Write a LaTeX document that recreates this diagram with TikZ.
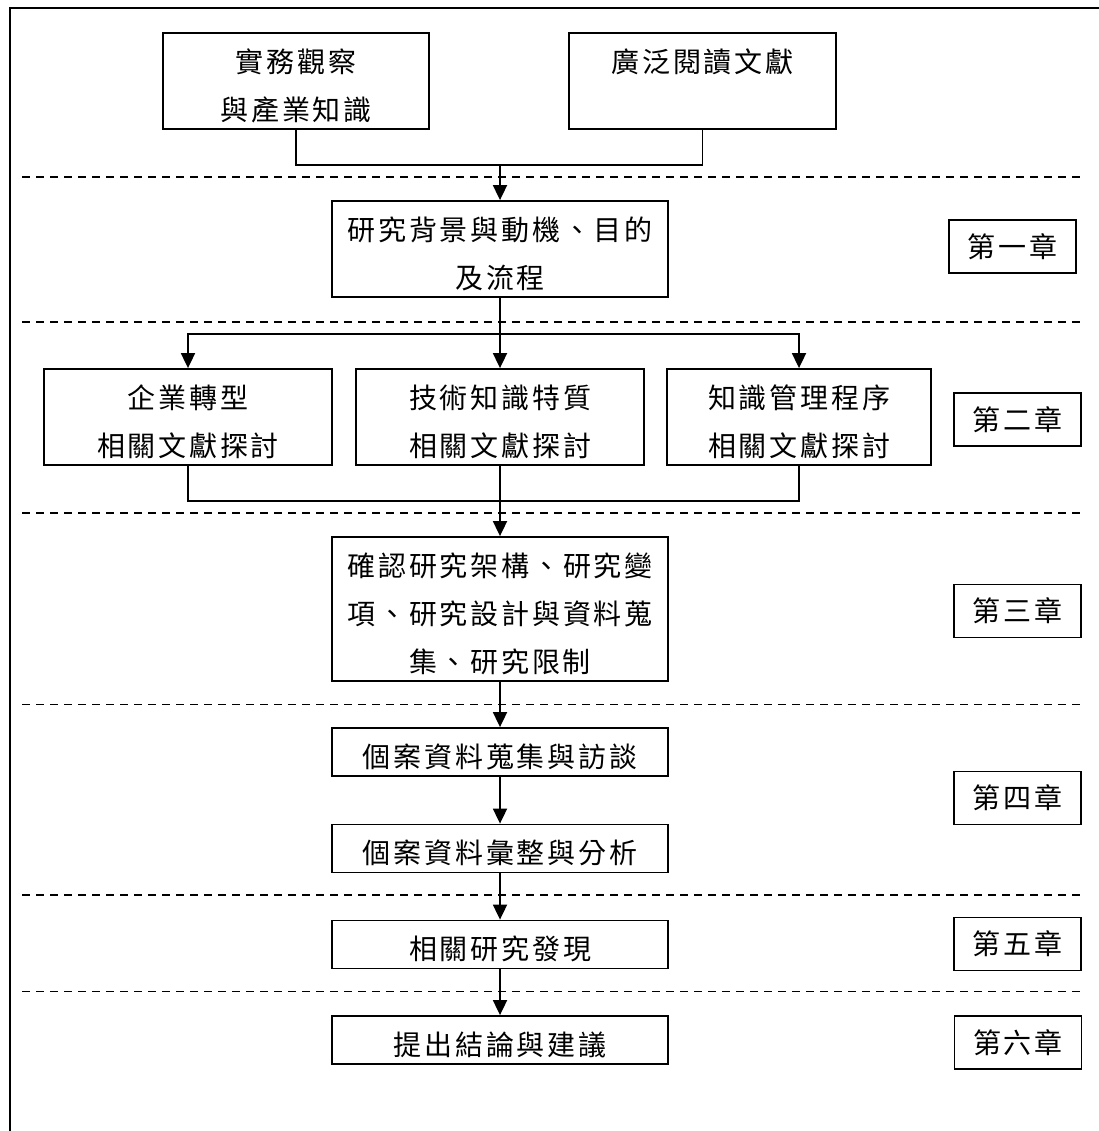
\documentclass[tikz,border=0pt]{standalone}
\usepackage{fontspec}
\setmainfont[LetterSpace=10]{Noto Sans CJK TC}
\usetikzlibrary{arrows.meta,calc}
\newcommand{\boxfont}{\fontsize{28}{48}\selectfont}
\newcommand{\lowtext}[1]{\raisebox{-5.5pt}[\height][\depth]{\begin{tabular}{@{}c@{}}#1\end{tabular}}}
\begin{document}
\begin{tikzpicture}[x=1pt,y=-1pt,
  frame/.style={draw, line width=1.8pt, inner sep=0pt, align=center, font=\boxfont},
  box/.style={frame},
  chap/.style={frame, minimum width=127pt, minimum height=53pt},
  conn/.style={line width=1.8pt},
  arr/.style={conn, -{Triangle[width=14pt,length=15pt]}},
  sep/.style={line width=1.4pt, dash pattern=on 8pt off 6pt}]
\useasboundingbox (0,0) rectangle (1098,1131);
% outer frame (top and left visible)
\draw[line width=2pt] (1110,8.5) -- (9.5,8.5) -- (9.5,1140);

% dashed separators
\foreach \yy in {177,322,513,704.5,895,991.5}
  \draw[sep] (22,\yy) -- (1082,\yy);

% boxes
\node[box, minimum width=266pt, minimum height=96pt] (b1) at (296,81) {\lowtext{實務觀察\\與產業知識}};
\node[box, minimum width=267pt, minimum height=96pt] (b2) at (702.5,81) {\lowtext{廣泛閱讀文獻\\\mbox{}}};
\node[box, minimum width=336pt, minimum height=96pt] (b3) at (500,249) {\lowtext{研究背景與動機、目的\\及流程}};
\node[box, minimum width=288pt, minimum height=96pt] (bA) at (188,417) {\lowtext{企業轉型\\相關文獻探討}};
\node[box, minimum width=288pt, minimum height=96pt] (bB) at (500,417) {\lowtext{技術知識特質\\相關文獻探討}};
\node[box, minimum width=264pt, minimum height=96pt] (bC) at (799,417) {\lowtext{知識管理程序\\相關文獻探討}};
\node[box, minimum width=336pt, minimum height=144pt] (b4) at (500,609) {\lowtext{確認研究架構、研究變\\項、研究設計與資料蒐\\集、研究限制}};
\node[box, minimum width=336pt, minimum height=48pt] (b5) at (500,752) {\lowtext{個案資料蒐集與訪談}};
\node[box, minimum width=336pt, minimum height=48pt] (b6) at (500,848.5) {\lowtext{個案資料彙整與分析}};
\node[box, minimum width=336pt, minimum height=48pt] (b7) at (500,944.5) {\lowtext{相關研究發現}};
\node[box, minimum width=336pt, minimum height=48pt] (b8) at (500,1040) {\lowtext{提出結論與建議}};

% chapter labels
\node[chap] (c1) at (1012.5,246.5) {第一章};
\node[chap] (c2) at (1017.5,419.5) {第二章};
\node[chap] (c3) at (1017.5,611) {第三章};
\node[chap] (c4) at (1017.5,798) {第四章};
\node[chap] (c5) at (1017.5,944) {第五章};
\node[chap] (c6) at (1018,1042.5) {第六章};

% connectors
\coordinate (j1) at (500,165);
\draw[conn] (b1.south) |- (j1) -| (b2.south);
\draw[arr] (j1) -- (b3.north);

\draw[arr] (b3.south) -- (bB.north);
\draw[arr] (b3.south) -- ++(0,36) -| (bA.north);
\draw[arr] (b3.south) -- ++(0,36) -| (bC.north);

\coordinate (j2) at (500,501);
\draw[conn] (bA.south) |- (j2) -| (bC.south);
\draw[conn] (bB.south) -- (j2);
\draw[arr] (j2) -- (b4.north);

\draw[arr] (b4.south) -- (b5.north);
\draw[arr] (b5.south) -- (b6.north);
\draw[arr] (b6.south) -- (b7.north);
\draw[arr] (b7.south) -- (b8.north);
\end{tikzpicture}
\end{document}
